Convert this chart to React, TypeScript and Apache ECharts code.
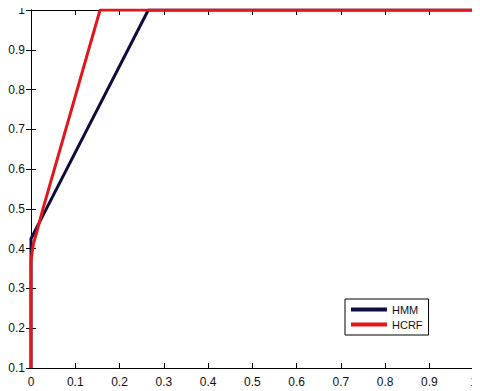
import React, { useEffect, useRef } from "react";
import * as echarts from "echarts";

// ROC-style curves: [false positive rate, true positive rate]
const hmmPoints: [number, number][] = [
  [0, 0.1],
  [0, 0.425],
  [0.03, 0.49],
  [0.265, 1],
  [1, 1],
];

const hcrfPoints: [number, number][] = [
  [0, 0.1],
  [0, 0.37],
  [0.005, 0.41],
  [0.015, 0.45],
  [0.027, 0.5],
  [0.156, 1],
  [1, 1],
];

const seriesNames = ["HMM", "HCRF"];
const seriesColors = ["#0d0c3a", "#e3161b"];

const fmt = (v: number) => {
  const s = v.toFixed(1);
  if (s === "1.0") return "1";
  if (s === "0.0") return "0";
  return s;
};

const labelStyle = {
  color: "#111",
  fontFamily: "Liberation Sans, Arial, sans-serif",
  fontSize: 12,
};

export default function App() {
  const ref = useRef<HTMLDivElement>(null);

  useEffect(() => {
    if (!ref.current) return;
    const chart = echarts.init(ref.current, undefined, { renderer: "svg" });
    const axisLine = { show: true, lineStyle: { color: "#000", width: 1 } };
    const tick = { show: true, inside: true, length: 5, lineStyle: { color: "#000" } };
    chart.setOption({
      animation: false,
      backgroundColor: "#fff",
      grid: { left: 31, right: 3, top: 10, bottom: 23, containLabel: false },
      legend: {
        data: seriesNames,
        orient: "vertical",
        left: 345,
        top: 299,
        icon: "rect",
        itemWidth: 36,
        itemHeight: 4,
        itemGap: 4,
        padding: [5, 6, 5, 6],
        borderColor: "#000",
        borderWidth: 1,
        backgroundColor: "#fff",
        textStyle: { ...labelStyle, fontSize: 11 },
      },
      xAxis: [
        {
          type: "value",
          min: 0,
          max: 1,
          interval: 0.1,
          axisLine,
          axisTick: tick,
          splitLine: { show: false },
          axisLabel: { ...labelStyle, margin: 8, formatter: fmt },
        },
        {
          type: "value",
          position: "top",
          min: 0,
          max: 1,
          interval: 0.1,
          axisLine,
          axisTick: tick,
          splitLine: { show: false },
          axisLabel: { show: false },
        },
      ],
      yAxis: [
        {
          type: "value",
          min: 0.1,
          max: 1,
          interval: 0.1,
          axisLine,
          axisTick: tick,
          splitLine: { show: false },
          axisLabel: { ...labelStyle, margin: 6, formatter: fmt },
        },
        {
          type: "value",
          position: "right",
          min: 0.1,
          max: 1,
          interval: 0.1,
          axisLine,
          axisTick: tick,
          splitLine: { show: false },
          axisLabel: { show: false },
        },
      ],
      series: [
        {
          name: seriesNames[0],
          type: "line",
          data: hmmPoints,
          showSymbol: false,
          color: seriesColors[0],
          lineStyle: { width: 3, color: seriesColors[0] },
        },
        {
          name: seriesNames[1],
          type: "line",
          data: hcrfPoints,
          showSymbol: false,
          color: seriesColors[1],
          lineStyle: { width: 3, color: seriesColors[1] },
        },
      ],
    });
    return () => chart.dispose();
  }, []);

  return <div ref={ref} style={{ width: 480, height: 391, marginLeft: -8, marginTop: -8 }} />;
}
